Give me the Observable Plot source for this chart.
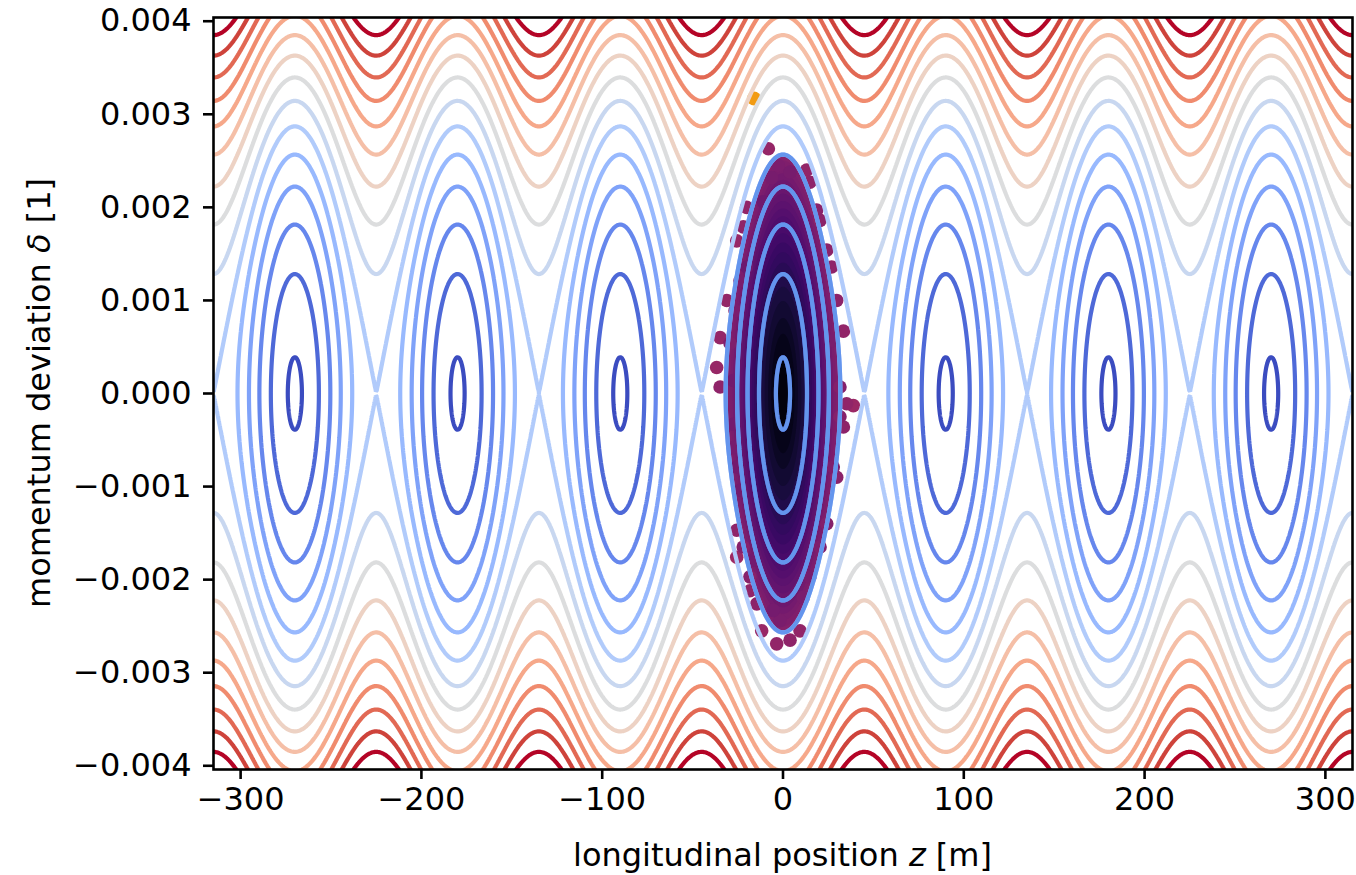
<!DOCTYPE html>
<html>
<head>
<meta charset="utf-8">
<script src="https://cdn.jsdelivr.net/npm/d3@7"></script>
<script src="https://cdn.jsdelivr.net/npm/@observablehq/plot@0.6"></script>
<style>
  html, body { margin: 0; padding: 0; background: #fff; overflow: hidden; }
  #chart svg { display: block; }
</style>
</head>
<body>
<div id="chart"></div>
<script>
// ---- values ----
const wavelength = 90;                 // m, bucket spacing (centres at 0, ±90, ±180, ±270)
const separatrixHalfHeight = 0.00287;  // δ of the separatrix at a bucket centre
// contour levels of the normalised Hamiltonian (1 = separatrix)
const levels = [0.0185, 0.2, 0.4, 0.6, 0.8, 1.0, 1.2, 1.4, 1.6, 1.8, 2.0, 2.2, 2.4, 2.6, 2.8];
// inner levels redrawn over the bunch in the central bucket
const innerLevels = [0.0185, 0.2, 0.4, 0.6, 0.8];
// filled bunch core (levels of the Hamiltonian inside the central bucket)
const coreLevels = [0.80, 0.76, 0.72, 0.68, 0.64, 0.60, 0.56, 0.52, 0.48, 0.44, 0.40, 0.36, 0.32, 0.28, 0.24, 0.20, 0.16, 0.12, 0.08, 0.05, 0.02];
// individual macro-particles visible at the edge of the bunch
const particleZ = [-8.1, -2.6, 3.9, 13.1, 14.9, -6.3, -10.9, -20.1, 18.6, 20.5, -22, -25.6, 24.2, 26.9, -20.1, -23.8, -31.1, -26.5, 29.7, 33.4,
                   -34.8, -29.3, 27.8, -36.7, -34.8, 31.5, -27.5,
                   35.2, 38.9, 31.5, 33.4, 27.8, 29.7, -27.5, -27.5, -25.6, -23.8, -25.6, -22, -25.6, -16.4, -18.3, -18.3, -14.5, -5.4, -1.7,
                   11.2, -11.8, -3.5, 3.9, 9.4, 14.9, 20.5, 24.2];
const particleDelta = [0.00263, 0.00245, 0.00238, 0.0024, 0.00227, 0.00232, 0.00206, 0.002, 0.00197, 0.00186, 0.00179, 0.00164, 0.00154, 0.00136, 0.00136, 0.00121, 0.001, 0.00089, 0.001, 0.00067,
                       0.0006, 0.00054, 0.00057, 0.00028, 0.00007, 0.00007, 0.00014,
                       -0.00011, -0.00013, -0.00025, -0.00036, -0.00079, -0.0009, -0.00033, -0.00058, -0.00079, -0.00104, -0.00147, -0.00165, -0.00176, -0.00179, -0.00197, -0.00212, -0.00226, -0.00233, -0.00244,
                       -0.00219, -0.00255, -0.00269, -0.00265, -0.00255, -0.00197, -0.00165, -0.0014];
// stray particle outside the bucket
const strayZ = [-16];
const strayDelta = [0.00317];
// axes
const xTicks = [-300, -200, -100, 0, 100, 200, 300];
const yTicks = [-0.004, -0.003, -0.002, -0.001, 0, 0.001, 0.002, 0.003, 0.004];
const xDomain = [-315, 315];
const yDomain = [-0.00404, 0.00404];

// ---- styling helpers ----
const coolwarmStops = ["#3b4cc0", "#4d68d7", "#6282ea", "#779af7", "#8db0fe", "#a3c2ff", "#b8d0f9", "#ccd9ee", "#dddddd",
                       "#ecd3c6", "#f5c4ad", "#f7b194", "#f49a7b", "#ec7f63", "#de604d", "#cb3e38", "#b40426"];
const coolwarm = d3.piecewise(d3.interpolateRgb, coolwarmStops);
const lvMin = d3.min(levels), lvMax = d3.max(levels);
const levelColor = h => coolwarm(Math.min(1, (h - lvMin) / (lvMax - lvMin)));

const H = (z, d) => (d / separatrixHalfHeight) ** 2 + (1 - Math.cos(2 * Math.PI * z / wavelength)) / 2;
const minus = s => s.replace("-", "\u2212");

const particles = particleZ.map((z, i) => ({z, delta: particleDelta[i]}))
  .sort((a, b) => H(b.z, b.delta) - H(a.z, a.delta));
const stray = strayZ.map((z, i) => ({z, delta: strayDelta[i]}));

const W = 1356, HT = 875;
const mL = 213, mR = 4, mT = 17, mB = 106;

const plot = Plot.plot({
  width: W,
  height: HT,
  marginLeft: mL,
  marginRight: mR,
  marginTop: mT,
  marginBottom: mB,
  style: {fontFamily: "DejaVu Sans", fontSize: "32px", color: "black", background: "white"},
  x: {domain: xDomain},
  y: {domain: yDomain},
  color: {type: "linear", domain: [-1, 0], interpolate: t => d3.interpolateInferno(0.43 * Math.pow(Math.max(0, 1 - t), 0.75))},
  marks: [
    // stray particle (below the contour lines)
    Plot.dot(stray, {x: "z", y: "delta", r: 7, fill: "#f29b12", clip: true}),
    // dense bunch core
    Plot.contour({
      value: (x, y) => -H(x, y),
      x1: -45, x2: 45, y1: -0.0035, y2: 0.0035,
      thresholds: coreLevels.map(h => -h).sort((a, b) => a - b),
      fill: "value",
      pixelSize: 1,
      clip: true
    }),
    // individual particles of the bunch
    Plot.dot(particles, {x: "z", y: "delta", r: 6.8, fill: d => -H(d.z, d.delta), clip: true}),
    // Hamiltonian contours, one mark per level
    ...levels.map(h => Plot.contour({
      value: (x, y) => H(x, y),
      x1: -345, x2: 345, y1: -0.0046, y2: 0.0046,
      thresholds: [h],
      stroke: levelColor(h),
      strokeWidth: 4.2,
      pixelSize: 1,
      clip: true
    })),
    // inner contours of the central bucket drawn above the bunch
    Plot.contour({
      value: (x, y) => -H(x, y),
      x1: -45, x2: 45, y1: -0.0035, y2: 0.0035,
      thresholds: innerLevels.map(h => -h).sort((a, b) => a - b),
      stroke: "#6495ed",
      strokeWidth: 4.2,
      pixelSize: 1,
      clip: true
    }),
    Plot.axisX({ticks: xTicks, tickSize: 10, tickPadding: 8, strokeWidth: 2.6, label: null,
                tickFormat: d => minus(String(d))}),
    Plot.axisY({ticks: yTicks, tickSize: 10, tickPadding: 12, strokeWidth: 2.6, label: null,
                tickFormat: d => minus(d.toFixed(3))}),
    Plot.frame({stroke: "black", strokeWidth: 2.6})
  ]
});

// axis titles with italic math symbols
const svg = d3.select(plot);
const xl = svg.append("text")
  .attr("x", mL + (W - mL - mR) / 2).attr("y", 866)
  .attr("text-anchor", "middle").attr("fill", "black")
  .style("font-family", "DejaVu Sans").style("font-size", "32px");
xl.append("tspan").text("longitudinal position ");
xl.append("tspan").attr("font-style", "italic").text("z");
xl.append("tspan").text(" [m]");

const yl = svg.append("text")
  .attr("transform", `translate(50,${mT + (HT - mT - mB) / 2}) rotate(-90)`)
  .attr("text-anchor", "middle").attr("fill", "black")
  .style("font-family", "DejaVu Sans").style("font-size", "32px");
yl.append("tspan").text("momentum deviation ");
yl.append("tspan").attr("font-style", "italic").text("δ");
yl.append("tspan").text(" [1]");

document.getElementById("chart").appendChild(plot);
</script>
</body>
</html>
